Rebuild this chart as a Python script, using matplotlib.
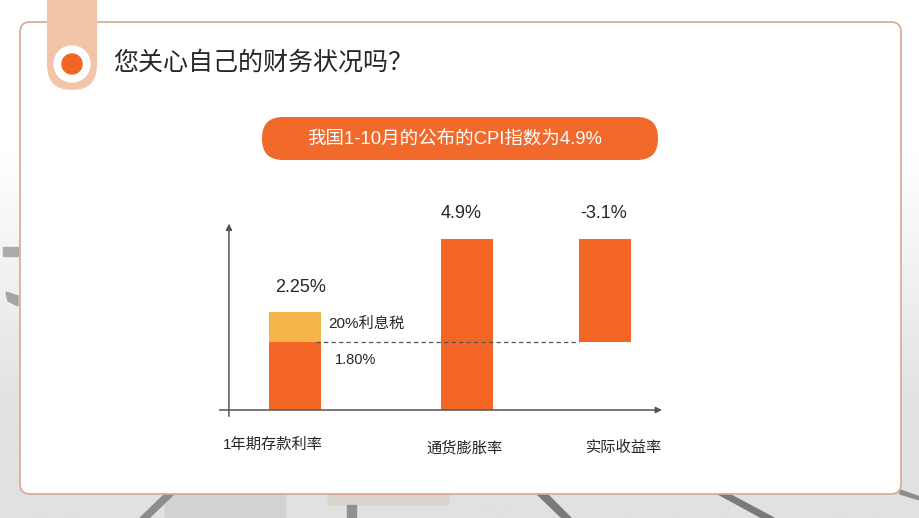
import numpy as np
import matplotlib
matplotlib.use("Agg")
import matplotlib.pyplot as plt
from matplotlib.patches import FancyBboxPatch, Circle, Polygon

# --- data (bar heights as drawn on the slide, in % units) ---
categories = ["1年期存款利率", "通货膨胀率", "实际收益率"]
value_labels = ["2.25%", "4.9%", "-3.1%"]
x_pos = [0.0, 1.0, 1.8]
deposit_net = 1.95      # after-tax part of deposit rate (labelled 1.80%)
deposit_tax = 0.86      # 20% interest tax slice on top
cpi_height = 4.9
real_bottom = 1.95
real_height = 2.95

title = "您关心自己的财务状况吗？"
banner = "我国1-10月的公布的CPI指数为4.9%"

ORANGE = "#f26524"
YELLOW = "#f5b548"
CJK = ["Noto Sans CJK SC", "DejaVu Sans"]
MIX = ["Liberation Sans", "Noto Sans CJK SC", "DejaVu Sans"]

W, H = 920, 518
fig = plt.figure(figsize=(W / 100, H / 100), dpi=100)

# background / slide decoration in pixel coordinates
bg = fig.add_axes([0, 0, 1, 1])
bg.set_xlim(0, W)
bg.set_ylim(H, 0)
bg.axis("off")
grad = np.linspace(0, 1, 256).reshape(-1, 1)
grad = np.clip((grad - 0.3) / 0.5, 0, 1)
bg.imshow(grad, cmap=matplotlib.colors.LinearSegmentedColormap.from_list("g", ["#ffffff", "#e1e1e1"]),
          extent=[0, W, H, 0], aspect="auto", zorder=0)
# floor lines peeking under the card
bg.add_patch(Polygon([[165, 494], [285, 494], [285, 518], [165, 518]], color="#d2d2d2", zorder=1))
bg.add_patch(Polygon([[140, 518], [165, 494], [174, 494], [149, 518]], color="#8c8c8c", zorder=1))
bg.add_patch(Polygon([[327, 494], [450, 494], [448, 505], [330, 505]], color="#d8d4cc", zorder=1))
bg.add_patch(Polygon([[347, 505], [356, 505], [356, 518], [347, 518]], color="#909090", zorder=1))
bg.add_patch(Polygon([[537, 494], [547, 494], [571, 518], [562, 518]], color="#7a7a7a", zorder=1))
bg.add_patch(Polygon([[718, 494], [729, 494], [774, 518], [762, 518]], color="#7a7a7a", zorder=1))
bg.add_patch(Polygon([[900, 490], [920, 497], [920, 500], [900, 494]], color="#8c8c8c", zorder=1))
bg.add_patch(Polygon([[3, 247], [18, 247], [18, 256], [3, 256]], color="#ababab", zorder=1))
bg.add_patch(Polygon([[6, 292], [18, 296], [18, 306], [8, 301]], color="#a4a4a4", zorder=1))

card = FancyBboxPatch((20, 22), 881, 472, boxstyle="round,pad=0,rounding_size=10",
                      facecolor="white", edgecolor="#d8a98e", lw=1.2, zorder=2)
bg.add_patch(card)
tab = FancyBboxPatch((47, -30), 50, 120, boxstyle="round,pad=0,rounding_size=25",
                     facecolor="#f3c5a8", edgecolor="none", zorder=3)
bg.add_patch(tab)
bg.add_patch(Circle((72, 64), 18, color="white", zorder=4))
bg.add_patch(Circle((72, 64), 10, color=ORANGE, zorder=5))
bg.text(113, 63, title, fontsize=18, family=CJK, color="#262626", va="center", ha="left", zorder=5)

pill = FancyBboxPatch((262, 117), 396, 43, boxstyle="round,pad=0,rounding_size=21",
                      facecolor="#f26a2b", edgecolor="none", zorder=3)
bg.add_patch(pill)
bg.text(455, 140, banner, fontsize=13.3, family=MIX, color="white", va="center", ha="center", zorder=5)

# chart axes: x unit = 172 px, y unit = 34.9 px, origin at (295, 410) px
left_px, right_px, top_px, bot_px = 200, 700, 200, 470
ax = fig.add_axes([left_px / W, 1 - bot_px / H, (right_px - left_px) / W, (bot_px - top_px) / H])
ax.set_xlim((left_px - 295) / 172, (right_px - 295) / 172)
ax.set_ylim((410 - bot_px) / 34.9, (410 - top_px) / 34.9)
ax.axis("off")
ax.patch.set_alpha(0)

bw = 52 / 172
ax.bar(x_pos[0], deposit_net, width=bw, color=ORANGE, zorder=3)
ax.bar(x_pos[0], deposit_tax, width=bw, bottom=deposit_net, color=YELLOW, zorder=3)
ax.bar(x_pos[1], cpi_height, width=bw, color=ORANGE, zorder=3)
ax.bar(x_pos[2], real_height, width=bw, bottom=real_bottom, color=ORANGE, zorder=3)

ax.hlines(deposit_net, x_pos[0] + bw / 2 - 0.03, x_pos[2] - bw / 2, colors="#555555",
          linestyles=(0, (3.5, 2.5)), lw=0.9, zorder=4)

# axes with arrows
ax.annotate("", xy=(2.15, 0), xytext=(-0.455, 0),
            arrowprops=dict(arrowstyle="-|>", color="#555555", lw=1.1, mutation_scale=9), zorder=4)
ax.annotate("", xy=(-0.384, 5.42), xytext=(-0.384, -0.26),
            arrowprops=dict(arrowstyle="-|>", color="#555555", lw=1.1, mutation_scale=9), zorder=4)

ax.text(0.03, 3.52, value_labels[0], fontsize=13, family=MIX, color="#262626", ha="center", va="center")
ax.text(0.965, 5.64, value_labels[1], fontsize=13, family=MIX, color="#262626", ha="center", va="center", clip_on=False)
ax.text(1.797, 5.64, value_labels[2], fontsize=13, family=MIX, color="#262626", ha="center", va="center", clip_on=False)
ax.text(0.192, 2.46, "20%利息税", fontsize=11, family=MIX, color="#262626", ha="left", va="center")
ax.text(0.233, 1.43, "1.80%", fontsize=10.5, family=MIX, color="#262626", ha="left", va="center")

cat_x = [-0.131, 0.983, 1.913]
cat_y = [-1.0, -1.09, -1.09]
for cx, cy, c in zip(cat_x, cat_y, categories):
    ax.text(cx, cy, c, fontsize=11, family=MIX, color="#262626", ha="center", va="center")

fig.savefig("out.png", dpi=100)
